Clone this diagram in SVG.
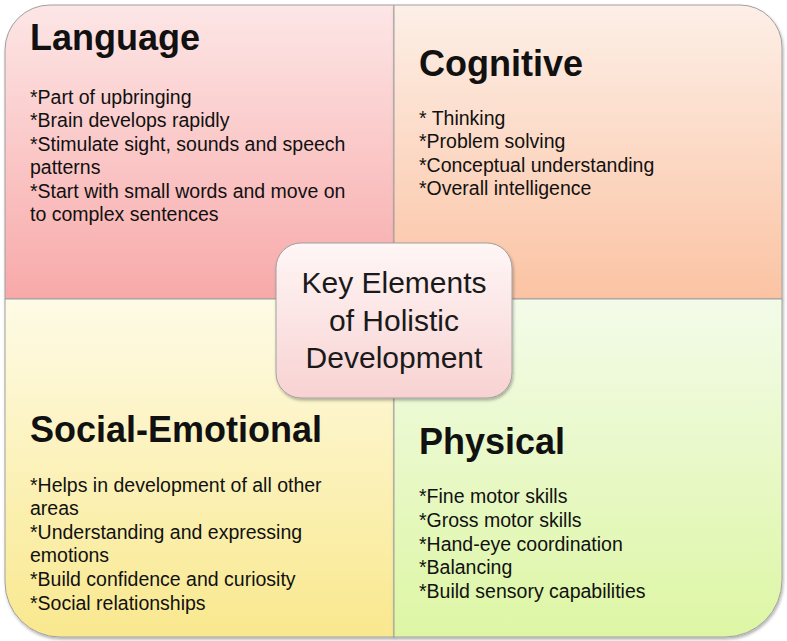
<svg xmlns="http://www.w3.org/2000/svg" width="787" height="641" viewBox="0 0 787 641">
<defs>
<linearGradient id="gTL" x1="0" y1="0" x2="0" y2="1"><stop offset="0" stop-color="#fde6e6"/><stop offset="1" stop-color="#f8a9a9"/></linearGradient>
<linearGradient id="gTR" x1="0" y1="0" x2="0" y2="1"><stop offset="0" stop-color="#fdefe7"/><stop offset="1" stop-color="#fbc3a3"/></linearGradient>
<linearGradient id="gBL" x1="0" y1="0" x2="0" y2="1"><stop offset="0" stop-color="#fefbe6"/><stop offset="1" stop-color="#f9e88e"/></linearGradient>
<linearGradient id="gBR" x1="0" y1="0" x2="0" y2="1"><stop offset="0" stop-color="#f3fbe9"/><stop offset="1" stop-color="#ddf6a4"/></linearGradient>
<linearGradient id="gC" x1="0" y1="0" x2="0" y2="1"><stop offset="0" stop-color="#fff6f6"/><stop offset="1" stop-color="#f8d2d2"/></linearGradient>
<filter id="sh" x="-10%" y="-10%" width="120%" height="120%"><feDropShadow dx="1" dy="2" stdDeviation="1.5" flood-color="#000" flood-opacity="0.3"/></filter>
</defs>
<style>
.q{stroke:#a0a0a0;stroke-width:1;filter:url(#sh)}
.h{font-family:"Liberation Sans",Arial,sans-serif;font-weight:bold;font-size:36px;fill:#111}
.b{font-family:"Liberation Sans",Arial,sans-serif;font-size:19.5px;fill:#111}
.c{font-family:"Liberation Sans",Arial,sans-serif;font-size:30px;fill:#1a1a1a;text-anchor:middle}
</style>
<rect width="787" height="641" fill="#ffffff"/>
<g id="language">
<path class="q" fill="url(#gTL)" d="M5,299 V50 A45,45 0 0 1 50,5 H394 V299 Z"/>
<text class="h" x="30" y="50">Language</text>
<text class="b" x="30"><tspan x="30" y="104">*Part of upbringing</tspan><tspan x="30" y="127">*Brain develops rapidly</tspan><tspan x="30" y="151">*Stimulate sight, sounds and speech</tspan><tspan x="30" y="174">patterns</tspan><tspan x="30" y="198">*Start with small words and move on</tspan><tspan x="30" y="221">to complex sentences</tspan></text>
</g>
<g id="cognitive">
<path class="q" fill="url(#gTR)" d="M394,5 H740 A42,42 0 0 1 782,47 V299 H394 Z"/>
<text class="h" x="419" y="76">Cognitive</text>
<text class="b"><tspan x="419" y="125">* Thinking</tspan><tspan x="419" y="148">*Problem solving</tspan><tspan x="419" y="172">*Conceptual understanding</tspan><tspan x="419" y="195">*Overall intelligence</tspan></text>
</g>
<g id="social-emotional">
<path class="q" fill="url(#gBL)" d="M5,299 H394 V637 H60 A55,55 0 0 1 5,582 Z"/>
<text class="h" x="30" y="442">Social-Emotional</text>
<text class="b"><tspan x="30" y="492">*Helps in development of all other</tspan><tspan x="30" y="515">areas</tspan><tspan x="30" y="539">*Understanding and expressing</tspan><tspan x="30" y="562">emotions</tspan><tspan x="30" y="586">*Build confidence and curiosity</tspan><tspan x="30" y="610">*Social relationships</tspan></text>
</g>
<g id="physical">
<path class="q" fill="url(#gBR)" d="M394,299 H782 V580 A57,57 0 0 1 725,637 H394 Z"/>
<text class="h" x="419" y="454">Physical</text>
<text class="b"><tspan x="419" y="503">*Fine motor skills</tspan><tspan x="419" y="527">*Gross motor skills</tspan><tspan x="419" y="551">*Hand-eye coordination</tspan><tspan x="419" y="574">*Balancing</tspan><tspan x="419" y="598">*Build sensory capabilities</tspan></text>
</g>
<g id="center">
<rect class="q" x="276" y="243" width="236" height="155" rx="25" ry="25" fill="url(#gC)" stroke="#8a8a8a"/>
<text class="c"><tspan x="394" y="293">Key Elements</tspan><tspan x="394" y="331">of Holistic</tspan><tspan x="394" y="368">Development</tspan></text>
</g>
<g id="connectors"></g>
</svg>
